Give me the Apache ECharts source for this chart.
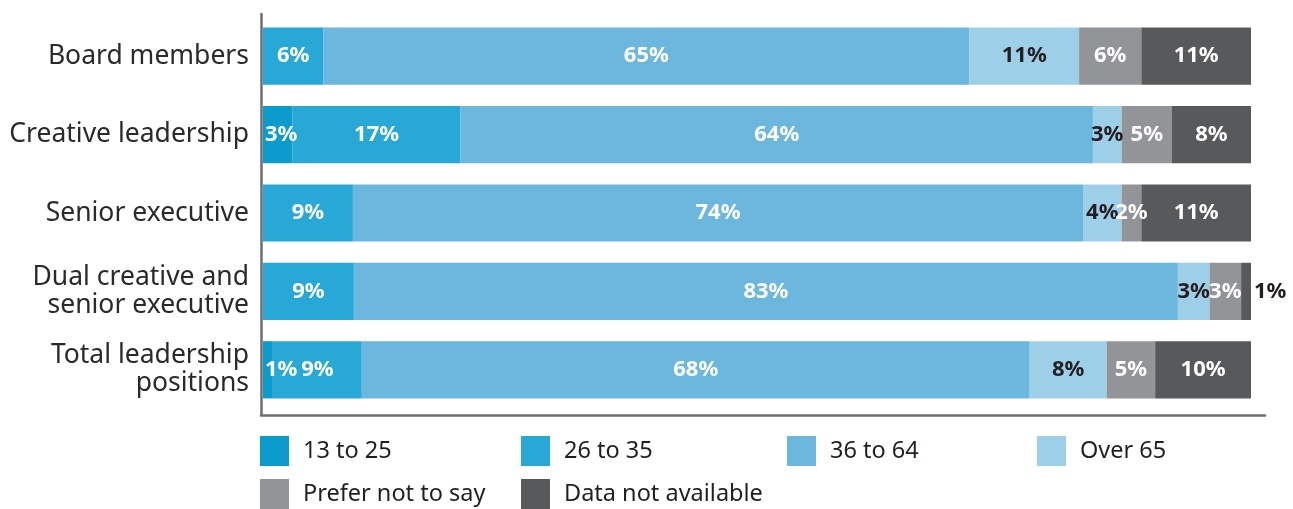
<!DOCTYPE html>
<html>
<head>
<meta charset="utf-8">
<script src="https://cdn.jsdelivr.net/npm/echarts@6/dist/echarts.min.js"></script>
<style>
html,body{margin:0;padding:0;background:#fff;}
#chart{width:1293px;height:509px;}
</style>
</head>
<body>
<div id="chart"></div>
<script>
// Categories (top to bottom in the picture)
const categories = ['Board members', 'Creative leadership', 'Senior executive', 'Dual creative and\nsenior executive', 'Total leadership\npositions'];
const seriesNames = ['13 to 25', '26 to 35', '36 to 64', 'Over 65', 'Prefer not to say', 'Data not available'];
// Values (%) in category order
const age13to25 = [0, 3.0, 0, 0, 1.0];
const age26to35 = [6.1, 17.0, 9.1, 9.2, 9.0];
const age36to64 = [65.4, 64.0, 73.9, 83.4, 67.6];
const over65 = [11.1, 2.9, 3.9, 3.2, 7.8];
const preferNot = [6.3, 5.1, 2.0, 3.2, 4.9];
const notAvailable = [11.1, 8.0, 11.1, 1.0, 9.7];

const colors = ['#0b9bcd', '#27a8d6', '#6cb7dd', '#9ecfe8', '#929497', '#58595b'];
const labelColors = ['#ffffff', '#ffffff', '#ffffff', '#231f20', '#ffffff', '#ffffff'];
const allValues = [age13to25, age26to35, age36to64, over65, preferNot, notAvailable];

const FONT = 'Noto Sans';
const chart = echarts.init(document.getElementById('chart'), null, {renderer: 'canvas'});

const series = seriesNames.map((name, si) => ({
  name: name,
  type: 'bar',
  stack: 'total',
  xAxisIndex: 0,
  yAxisIndex: 0,
  barCategoryGap: '27%',
  itemStyle: {color: colors[si]},
  label: {
    show: true,
    position: si === 0 ? 'insideLeft' : 'inside',
    distance: si === 0 ? 2 : 5,
    color: labelColors[si],
    fontFamily: FONT,
    fontWeight: 'bold',
    fontSize: 22,
    formatter: p => p.value > 0 ? Math.round(p.value) + '%' : ''
  },
  emphasis: {disabled: true},
  data: allValues[si].map((v, ci) => {
    // tiny last segment of Dual row: label sits outside on the right
    if (si === 5 && v < 2) {
      return {value: v, label: {position: 'right', distance: 3, color: '#231f20'}};
    }
    return v;
  })
}));

const legendPos = [
  {left: 260, top: 436}, {left: 521, top: 436}, {left: 787, top: 436}, {left: 1037, top: 436},
  {left: 260, top: 479}, {left: 521, top: 479}
];
const legends = seriesNames.map((n, i) => ({
  data: [n],
  left: legendPos[i].left,
  top: legendPos[i].top,
  padding: 0,
  itemWidth: 29,
  itemHeight: 30,
  icon: 'rect',
  selectedMode: false,
  textStyle: {fontFamily: FONT, fontSize: 23.5, color: '#231f20', padding: [0, 0, 0, 9]}
}));

const option = {
  animation: false,
  legend: legends,
  grid: [
    {left: 263, right: 42, top: 17, bottom: 100, containLabel: false},
    {left: 261, right: 28, top: 14, bottom: 94, containLabel: false}
  ],
  xAxis: [
    {type: 'value', gridIndex: 0, min: 0, max: 100, show: false},
    {type: 'value', gridIndex: 1, min: 0, max: 100, axisLine: {show: true, lineStyle: {color: '#6d6e71', width: 2.5}},
      axisTick: {show: false}, axisLabel: {show: false}, splitLine: {show: false}}
  ],
  yAxis: [
    {type: 'category', gridIndex: 0, inverse: true, data: categories,
      axisLine: {show: false}, axisTick: {show: false},
      axisLabel: {margin: 14, fontFamily: FONT, fontSize: 26.5, color: '#2b2a2b', lineHeight: 28, align: 'right'}},
    {type: 'value', gridIndex: 1, min: 0, max: 1, axisLine: {show: true, lineStyle: {color: '#6d6e71', width: 2.5}},
      axisTick: {show: false}, axisLabel: {show: false}, splitLine: {show: false}}
  ],
  series: series
};
chart.setOption(option);
</script>
</body>
</html>
